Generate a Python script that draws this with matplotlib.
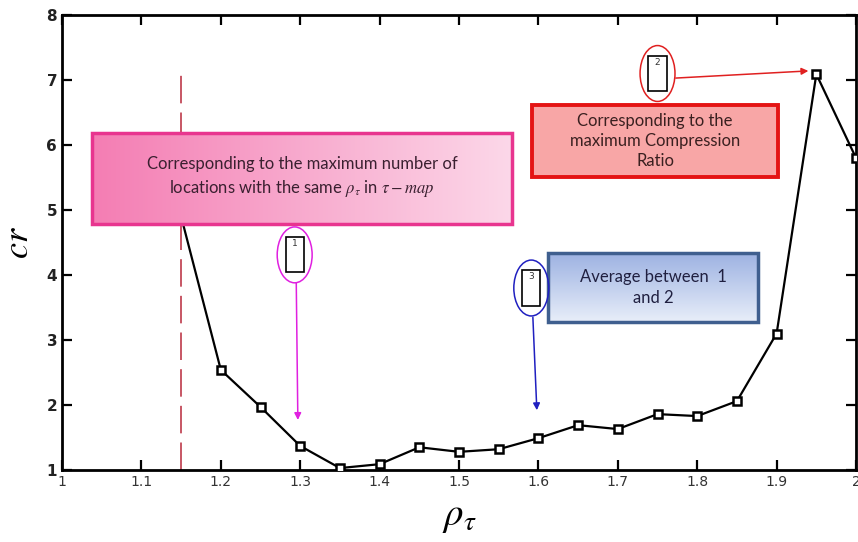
import numpy as np
import matplotlib.pyplot as plt
from matplotlib.patches import Rectangle, Ellipse
from matplotlib.colors import LinearSegmentedColormap

# compression ratio versus rho_tau
rho = [1.15, 1.2, 1.25, 1.3, 1.35, 1.4, 1.45, 1.5, 1.55, 1.6,
       1.65, 1.7, 1.75, 1.8, 1.85, 1.9, 1.95, 2.0]
cr = [4.9, 2.54, 1.97, 1.37, 1.03, 1.09, 1.35, 1.28, 1.32, 1.49,
      1.69, 1.63, 1.86, 1.83, 2.06, 3.1, 7.09, 5.8]
x_ticks = [1, 1.1, 1.2, 1.3, 1.4, 1.5, 1.6, 1.7, 1.8, 1.9, 2]
x_ticklabels = ['1', '1.1', '1.2', '1.3', '1.4', '1.5', '1.6', '1.7', '1.8', '1.9', '2']
y_ticks = [1, 2, 3, 4, 5, 6, 7, 8]
rho_mark = 1.15

plt.rcParams['mathtext.fontset'] = 'stix'
box_font = ['Lato', 'DejaVu Sans']

fig = plt.figure(figsize=(8.58, 5.42), dpi=100)
ax = fig.add_axes([0.0723, 0.1328, 0.9254, 0.8395])

ax.plot(rho, cr, color='black', lw=1.6, marker='s', ms=5.5,
        mfc='white', mec='black', mew=1.8, zorder=3)
ax.plot([rho_mark, rho_mark], [1, 7.12], color='#b8283a', lw=1.1,
        dashes=(18, 6), zorder=2)

ax.set_xlim(1, 2)
ax.set_ylim(1, 8)
ax.set_xticks(x_ticks)
ax.set_xticklabels(x_ticklabels, fontsize=10, color='#333333',
                   family=['Liberation Sans Narrow', 'DejaVu Sans'])
ax.set_yticks(y_ticks)
ax.set_yticklabels([str(v) for v in y_ticks], fontsize=11, fontweight='bold',
                   color='#222222')
ax.tick_params(direction='in', top=True, right=True, length=7, width=1.6)
for s in ax.spines.values():
    s.set_linewidth(2)
ax.set_xlabel(r'$\rho_\tau$', fontsize=28, labelpad=6)
ax.set_ylabel(r'$cr$', fontsize=26, labelpad=8)


def grad_box(x0, x1, y0, y1, c0, c1, edge, vertical=False):
    cmap = LinearSegmentedColormap.from_list('g', [c0, c1])
    g = np.linspace(0, 1, 256)
    img = g[:, None] if vertical else g[None, :]
    ax.imshow(img, cmap=cmap, extent=[x0, x1, y0, y1], origin='lower' if not vertical else 'upper',
              aspect='auto', zorder=5)
    ax.add_patch(Rectangle((x0, y0), x1 - x0, y1 - y0, fill=False,
                           ec=edge, lw=2.5, zorder=6))


grad_box(1.038, 1.567, 4.78, 6.18, '#f47db3', '#fcd8e9', '#e8358f')
ax.text(1.3025, 5.5, 'Corresponding to the maximum number of\n'
        r'locations with the same $\rho_\tau$ in $\tau - map$',
        ha='center', va='center', fontsize=12, color='#3a2030',
        family=box_font, linespacing=1.45, zorder=7)

ax.add_patch(Rectangle((1.592, 5.51), 0.31, 1.11, fc='#f8a6a6', ec='#e41414',
                       lw=2.8, zorder=6))
ax.text(1.747, 6.065, 'Corresponding to the\nmaximum Compression\nRatio',
        ha='center', va='center', fontsize=12, color='#3a2020',
        family=box_font, linespacing=1.3, zorder=7)

grad_box(1.612, 1.877, 3.28, 4.34, '#9db2e2', '#e8eef9', '#3f5f8f', vertical=True)
ax.text(1.7445, 3.81, 'Average between  1\nand 2', ha='center', va='center',
        fontsize=12, color='#202040', family=box_font, linespacing=1.35,
        zorder=7)

# numbered callouts with arrows
callouts = [
    ('1', 1.293, 4.31, '#e020e0', (1.295, 3.88), (1.297, 1.77)),
    ('2', 1.750, 7.10, '#e02020', (1.773, 7.03), (1.940, 7.14)),
    ('3', 1.591, 3.80, '#2020c0', (1.593, 3.35), (1.598, 1.92)),
]
for lab, cx, cy, col, start, end in callouts:
    ax.add_patch(Ellipse((cx, cy), 0.044, 0.86, fill=False, ec=col, lw=1.1, zorder=6))
    ax.add_patch(Rectangle((cx - 0.0115, cy - 0.27), 0.023, 0.54, fill=False,
                           ec='black', lw=1.2, zorder=6))
    ax.text(cx, cy + 0.17, lab, ha='center', va='center', fontsize=6.5,
            color='#333333', zorder=7)
    ax.annotate('', xy=end, xytext=start, zorder=6,
                arrowprops=dict(arrowstyle='-|>', color=col, lw=1.1,
                                mutation_scale=10, shrinkA=0, shrinkB=0))

fig.savefig('out.png', dpi=100)
